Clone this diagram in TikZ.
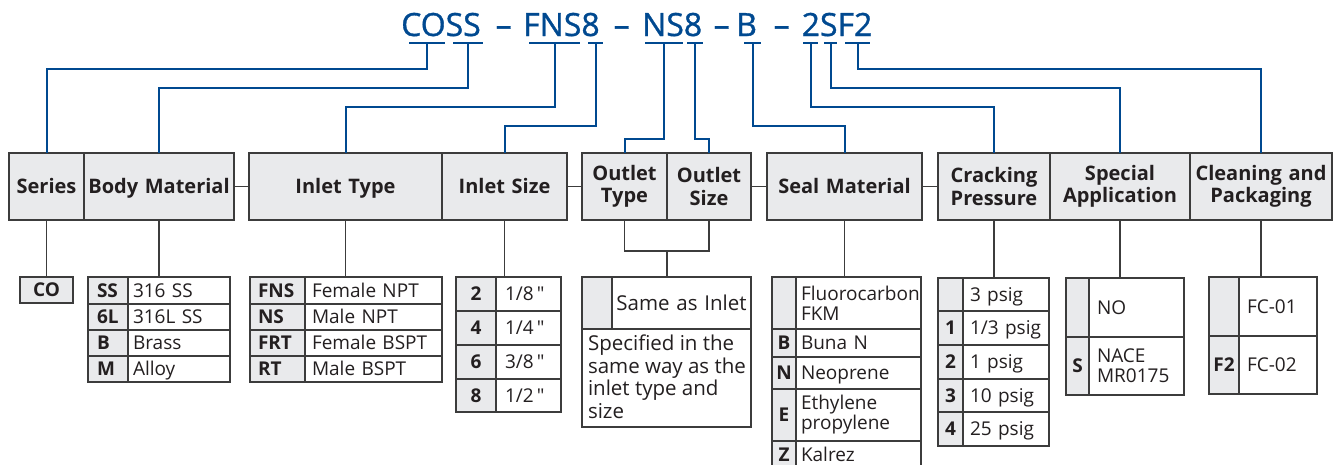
\documentclass[tikz,border=0pt]{standalone}
\usepackage{fontspec}
\setmainfont{Open Sans}
\newfontfamily\qtfont[Ligatures=TeXOff]{Open Sans}
\newfontfamily\ttlfont[FakeBold=1]{Open Sans}
\hyphenpenalty=10000
\exhyphenpenalty=10000
\definecolor{cblue}{RGB}{0,73,144}
\definecolor{cgray}{RGB}{233,234,236}
\definecolor{cline}{RGB}{60,60,60}
\definecolor{ctext}{RGB}{35,31,32}
\newcommand\cellbox[8]{%
  \pgfmathsetmacro\cbw{#4-#2-2*#7}%
  \pgfmathsetmacro\cbh{#5-#3}%
  \node[#6, anchor=north west, inner xsep=#7pt, inner ysep=0pt, outer sep=0pt,
        text width=\cbw pt, minimum height=\cbh pt] (#1) at (#2,#3) {#8};}
\newcommand\inch{\,{\qtfont"}}
\tikzset{
  hdr/.style={draw=cline, line width=1.6pt, fill=cgray, align=center, text=ctext,
              font=\bfseries\fontsize{20}{22.5}\selectfont, text height=14.3pt, text depth=0pt},
  codebase/.style={draw=cline, line width=1.2pt, fill=cgray, text=ctext,
              font=\bfseries\fontsize{19}{20}\selectfont, text height=13.6pt, text depth=0pt},
  codec/.style={codebase, align=center},
  codel/.style={codebase, align=left},
  desc/.style={draw=cline, line width=1.2pt, fill=white, align=left, text=ctext,
              font=\fontsize{19}{20}\selectfont, text height=13.6pt, text depth=0pt},
  descb/.style={desc, font=\fontsize{20.5}{22.5}\selectfont, text height=14.6pt},
  ml/.style={text height={}, text depth={}},
  plaintext/.style={text=ctext, inner sep=0pt, outer sep=0pt, align=left},
  titletext/.style={text=cblue, font=\ttlfont\fontsize{32}{36}\selectfont, inner sep=0pt, anchor=base west},
  bl/.style={draw=cblue, line width=2pt},
  gl/.style={draw=cline, line width=1.5pt},
}
\begin{document}
\begin{tikzpicture}[x=1pt,y=-1pt]
\useasboundingbox (0,0) rectangle (1335,464);
\clip (0,0) rectangle (1335,464);

% ---- title ----
\node[titletext] (tCOSS) at (401,36) {COSS};
\node[titletext] (td1) at (495.5,36) {–};
\node[titletext] (tFNS8) at (523,36) {FNS8};
\node[titletext] (td2) at (613.5,36) {–};
\node[titletext] (tNS8) at (642,36) {NS8};
\node[titletext] (td3) at (713.5,36) {–};
\node[titletext] (tB) at (736,36) {B};
\node[titletext] (td4) at (773.5,36) {–};
\node[titletext] (t2SF2) at (801.5,36) {2SF2};

% ---- header boxes ----
\cellbox{hSeries}{9}{153}{84}{220}{hdr}{2}{Series}
\cellbox{hBody}{84}{153}{234}{220}{hdr}{2}{Body Material}
\cellbox{hIT}{249}{153}{442}{220}{hdr}{2}{Inlet Type}
\cellbox{hIS}{442}{153}{567}{220}{hdr}{2}{Inlet Size}
\cellbox{hOT}{582}{153}{667}{220}{hdr,ml}{2}{Outlet\\Type}
\cellbox{hOS}{667}{153}{751}{220}{hdr,ml}{2}{Outlet\\Size}
\cellbox{hSeal}{767}{153}{922}{220}{hdr}{2}{Seal Material}
\cellbox{hCP}{938}{153}{1050}{220}{hdr,ml}{2}{Cracking\\Pressure}
\cellbox{hSA}{1050}{153}{1190}{220}{hdr,ml}{2}{Special\\Application}
\cellbox{hCl}{1190}{153}{1332}{220}{hdr,ml}{2}{Cleaning and\\Packaging}

% ---- blue underlines and connectors ----
\coordinate (uCO) at (427,43);
\coordinate (uSS) at (468,43);
\coordinate (uFNS) at (555,43);
\coordinate (uIS) at (595.5,43);
\coordinate (uNS) at (664,43);
\coordinate (uOS) at (695,43);
\coordinate (uB) at (752.5,43);
\coordinate (u2) at (810.5,43);
\coordinate (uS) at (830.5,43);
\coordinate (uF2) at (857.5,43);
\draw[bl] (409,43) -- (445,43);
\draw[bl] (453,43) -- (483,43);
\draw[bl] (529,43) -- (580,43);
\draw[bl] (588,43) -- (603,43);
\draw[bl] (645,43) -- (683,43);
\draw[bl] (687,43) -- (703,43);
\draw[bl] (744,43) -- (761,43);
\draw[bl] (803,43) -- (818,43);
\draw[bl] (824,43) -- (837,43);
\draw[bl] (845,43) -- (870,43);
\draw[bl] (uCO) -- ++(0,26) -| (hSeries.north);
\draw[bl] (uSS) -- ++(0,45) -| (hBody.north);
\draw[bl] (uFNS) -- ++(0,64) -| (hIT.north);
\draw[bl] (uIS) -- ++(0,83) -| (hIS.north);
\draw[bl] (uNS) -- ++(0,96) -| (hOT.north);
\draw[bl] (uOS) -- ++(0,96) -| (hOS.north);
\draw[bl] (uB) -- ++(0,83) -| (hSeal.north);
\draw[bl] (u2) -- ++(0,64) -| (hCP.north);
\draw[bl] (uS) -- ++(0,45) -| (hSA.north);
\draw[bl] (uF2) -- ++(0,26) -| (hCl.north);

% ---- connectors between header groups ----
\draw[gl] (hBody.east) -- (hIT.west);
\draw[gl] (hIS.east) -- (hOT.west);
\draw[gl] (hOS.east) -- (hSeal.west);
\draw[gl] (hSeal.east) -- (hCP.west);

% ---- tables ----
% Series
\cellbox{tCO}{20}{277}{73}{303}{codec}{2}{CO}
% Body material
\cellbox{bm1c}{88}{277}{128}{304}{codel}{9}{SS}
\cellbox{bm1d}{128}{277}{230}{304}{desc}{5}{316 SS}
\cellbox{bm2c}{88}{304}{128}{330}{codel}{9}{6L}
\cellbox{bm2d}{128}{304}{230}{330}{desc}{5}{316L SS}
\cellbox{bm3c}{88}{330}{128}{356}{codel}{9}{B}
\cellbox{bm3d}{128}{330}{230}{356}{desc}{5}{Brass}
\cellbox{bm4c}{88}{356}{128}{382}{codel}{9}{M}
\cellbox{bm4d}{128}{356}{230}{382}{desc}{5}{Alloy}
% Inlet type
\cellbox{it1c}{250}{277}{305}{304}{codel}{8}{FNS}
\cellbox{it1d}{305}{277}{442}{304}{desc}{7}{Female NPT}
\cellbox{it2c}{250}{304}{305}{330}{codel}{8}{NS}
\cellbox{it2d}{305}{304}{442}{330}{desc}{7}{Male NPT}
\cellbox{it3c}{250}{330}{305}{356}{codel}{8}{FRT}
\cellbox{it3d}{305}{330}{442}{356}{desc}{7}{Female BSPT}
\cellbox{it4c}{250}{356}{305}{382}{codel}{8}{RT}
\cellbox{it4d}{305}{356}{442}{382}{desc}{7}{Male BSPT}
% Inlet size
\cellbox{is1c}{456}{277}{496}{311}{codec}{2}{2}
\cellbox{is1d}{496}{277}{561}{311}{desc}{9}{1/8\inch}
\cellbox{is2c}{456}{311}{496}{345}{codec}{2}{4}
\cellbox{is2d}{496}{311}{561}{345}{desc}{9}{1/4\inch}
\cellbox{is3c}{456}{345}{496}{379}{codec}{2}{6}
\cellbox{is3d}{496}{345}{561}{379}{desc}{9}{3/8\inch}
\cellbox{is4c}{456}{379}{496}{412}{codec}{2}{8}
\cellbox{is4d}{496}{379}{561}{412}{desc}{9}{1/2\inch}
% Outlet
\cellbox{ot1c}{582}{277}{612}{329}{codec}{2}{}
\cellbox{ot1d}{612}{277}{751}{329}{descb, align=center}{2}{Same as Inlet}
\cellbox{ot2}{582}{329}{751}{427}{desc}{6}{}
\node[plaintext, font=\fontsize{20.5}{22.5}\selectfont, anchor=north west] (ot2t) at (588,335)
  {Specified in the\\same way as the\\inlet type and\\size};
% Seal material
\cellbox{se1c}{772}{277}{796}{329}{codec}{1}{}
\cellbox{se1d}{796}{277}{921}{329}{desc,ml}{5}{Fluorocarbon\\FKM}
\cellbox{se2c}{772}{329}{796}{357}{codec}{1}{B}
\cellbox{se2d}{796}{329}{921}{357}{desc}{5}{Buna N}
\cellbox{se3c}{772}{357}{796}{389}{codec}{1}{N}
\cellbox{se3d}{796}{357}{921}{389}{desc}{5}{Neoprene}
\cellbox{se4c}{772}{389}{796}{441}{codec}{1}{E}
\cellbox{se4d}{796}{389}{921}{441}{desc,ml}{5}{Ethylene\\propylene}
\cellbox{se5c}{772}{441}{796}{469}{codec}{1}{Z}
\cellbox{se5d}{796}{441}{921}{469}{desc}{5}{Kalrez}
% Cracking pressure
\cellbox{cp1c}{938}{278}{963}{311}{codec}{1}{}
\cellbox{cp1d}{963}{278}{1049}{311}{desc}{7}{3 psig}
\cellbox{cp2c}{938}{311}{963}{345}{codec}{1}{1}
\cellbox{cp2d}{963}{311}{1049}{345}{desc}{7}{1/3 psig}
\cellbox{cp3c}{938}{345}{963}{379}{codec}{1}{2}
\cellbox{cp3d}{963}{345}{1049}{379}{desc}{7}{1 psig}
\cellbox{cp4c}{938}{379}{963}{412}{codec}{1}{3}
\cellbox{cp4d}{963}{379}{1049}{412}{desc}{7}{10 psig}
\cellbox{cp5c}{938}{412}{963}{446}{codec}{1}{4}
\cellbox{cp5d}{963}{412}{1049}{446}{desc}{7}{25 psig}
% Special application
\cellbox{sa1c}{1066}{278}{1089}{337}{codec}{1}{}
\cellbox{sa1d}{1089}{278}{1184}{337}{desc}{8}{NO}
\cellbox{sa2c}{1066}{337}{1089}{395}{codec}{1}{S}
\cellbox{sa2d}{1089}{337}{1184}{395}{desc,ml}{8}{NACE\\MR0175}
% Cleaning and packaging
\cellbox{cl1c}{1209}{277}{1239}{336}{codec}{1}{}
\cellbox{cl1d}{1239}{277}{1317}{336}{desc}{8}{FC-01}
\cellbox{cl2c}{1209}{336}{1239}{394}{codec}{1}{F2}
\cellbox{cl2d}{1239}{336}{1317}{394}{desc}{8}{FC-02}

% ---- stems from headers to tables ----
\draw[gl] (hSeries.south) -- (hSeries.south |- tCO.north);
\draw[gl] (hBody.south) -- (hBody.south |- bm1c.north);
\draw[gl] (hIT.south) -- (hIT.south |- it1c.north);
\draw[gl] (hIS.south) -- (hIS.south |- is1c.north);
\draw[gl] (hOT.south) -- ++(0,31) coordinate (obl) -| (hOS.south);
\draw[gl] (hOT.south east |- obl) -- (hOT.south east |- ot1c.north);
\draw[gl] (hSeal.south) -- (hSeal.south |- se1c.north);
\draw[gl] (hCP.south) -- (hCP.south |- cp1c.north);
\draw[gl] (hSA.south) -- (hSA.south |- sa1c.north);
\draw[gl] (hCl.south) -- (hCl.south |- cl1c.north);
\end{tikzpicture}
\end{document}
